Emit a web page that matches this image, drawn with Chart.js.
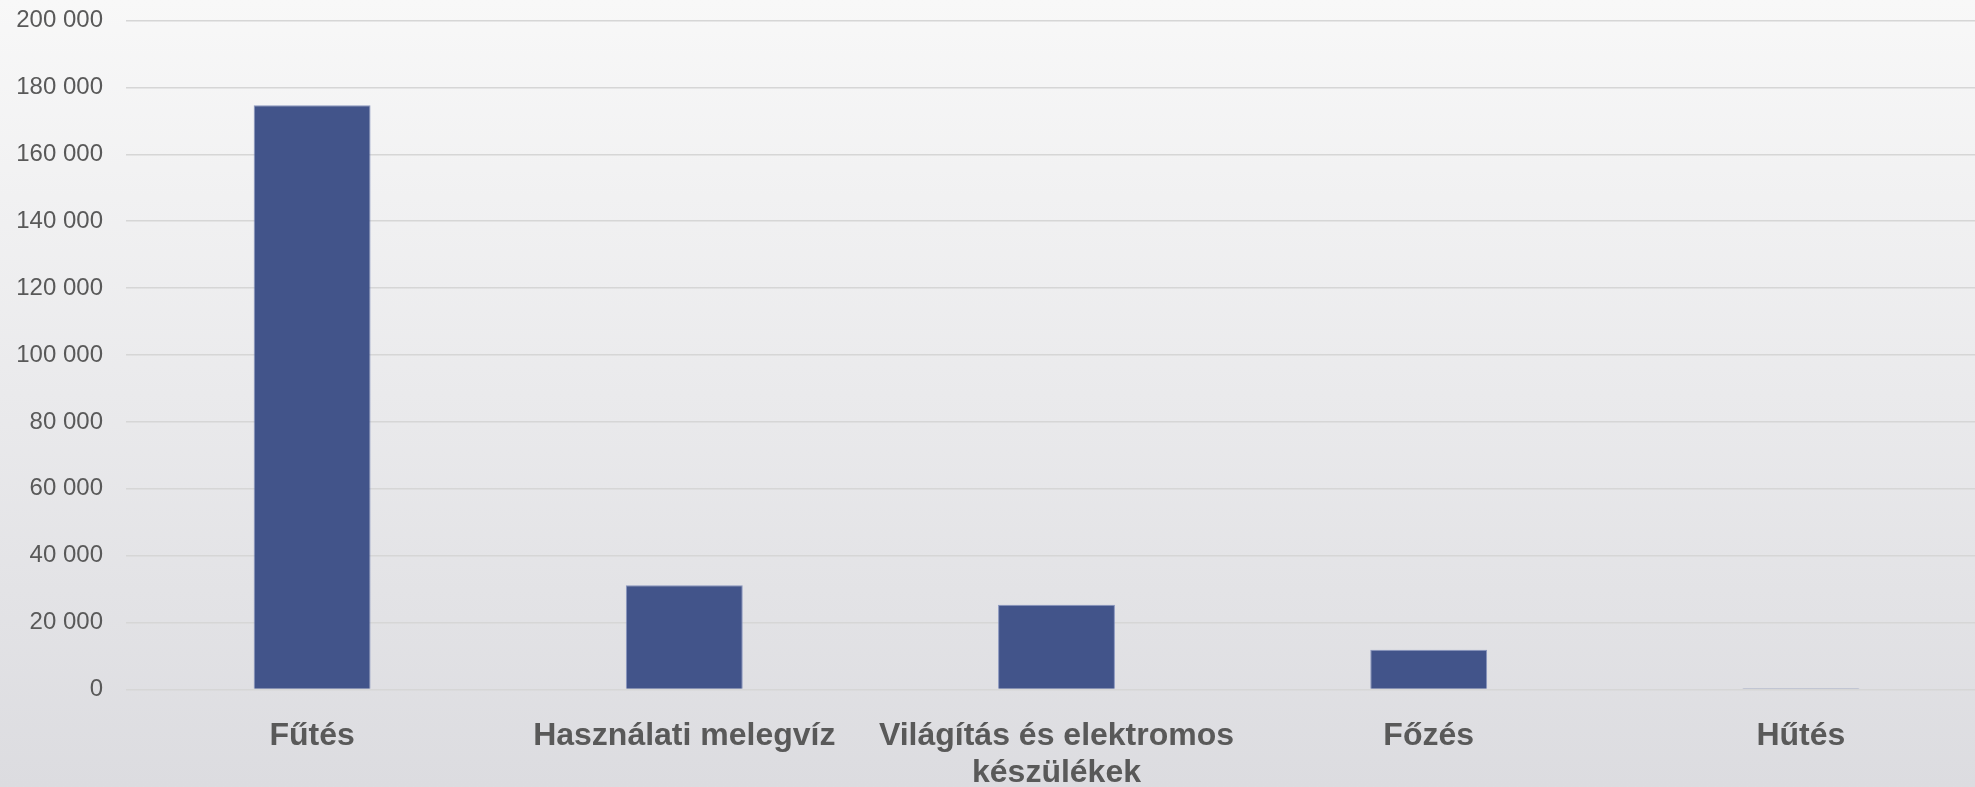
<!DOCTYPE html>
<html>
<head>
<meta charset="utf-8">
<script src="https://cdn.jsdelivr.net/npm/chart.js@4/dist/chart.umd.min.js"></script>
<style>
  html, body { margin: 0; padding: 0; overflow: hidden; }
  body { width: 1975px; height: 787px; background: linear-gradient(#f8f8f8, #dcdce0); }
  .chartBox { position: relative; width: 1988px; height: 787px; }
</style>
</head>
<body>
<div class="chartBox"><canvas id="myChart"></canvas></div>
<script>
// kategóriák és értékek
const kategoriak = ['Fűtés', 'Használati melegvíz', ['Világítás és elektromos', 'készülékek'], 'Főzés', 'Hűtés'];
const ertekek = [174700, 31200, 25300, 11900, 400];
const tengelyMax = 200000;
const tengelyLepes = 20000;

function ezresTagolas(v){
    return String(v).replace(/\B(?=(\d{3})+(?!\d))/g, ' ');
}

const data = {
    labels: kategoriak,
    datasets: [{
        label: 'Energiafelhasználás',
        backgroundColor: '#42548a',
        borderColor: 'rgba(125,140,185,0.9)',
        borderWidth: 1,
        data: ertekek,
        categoryPercentage: 1,
        barPercentage: 0.314
    }]
};

const config = {
    type: 'bar',
    data: data,
    options: {
        responsive: true,
        maintainAspectRatio: false,
        animation: false,
        layout: { padding: { top: 20.5, right: 1, left: 0, bottom: 0 } },
        plugins: {
            legend: { display: false },
            tooltip: { enabled: false }
        },
        scales: {
            x: {
                grid: { display: false },
                border: { display: false },
                ticks: {
                    color: '#595959',
                    padding: 20,
                    maxRotation: 0,
                    autoSkip: false,
                    font: { family: '"Liberation Sans", Arial, sans-serif', size: 32, weight: 'bold', lineHeight: 1.15 }
                },
                afterFit: (scale) => {
                    scale.height = 97.5;
                    scale.paddingLeft = 0;
                    scale.paddingRight = 0;
                }
            },
            y: {
                min: 0,
                max: tengelyMax,
                border: { display: false },
                grid: { color: '#d6d6d6', lineWidth: 1.5, drawTicks: false },
                ticks: {
                    stepSize: tengelyLepes,
                    color: '#595959',
                    padding: 23,
                    font: { family: '"Liberation Sans", Arial, sans-serif', size: 24 },
                    callback: (v) => ezresTagolas(v)
                },
                afterFit: (scale) => {
                    scale.width = 126;
                    scale.paddingTop = 0;
                    scale.paddingBottom = 0;
                }
            }
        }
    }
};

const myChart = new Chart(document.getElementById('myChart'), config);
</script>
</body>
</html>
